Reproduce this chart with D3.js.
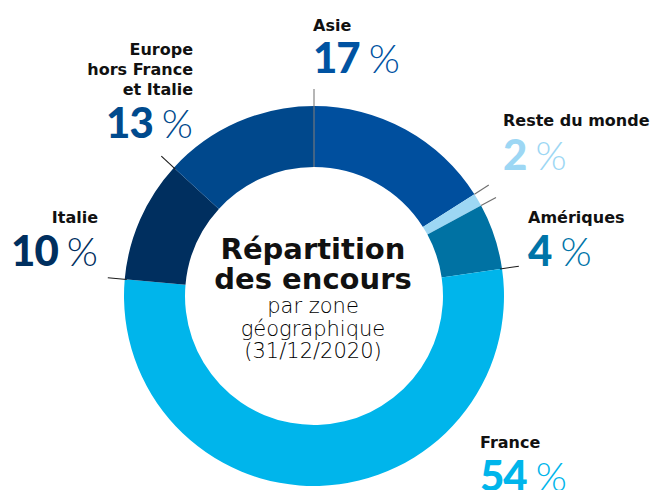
<!DOCTYPE html>
<html><head><meta charset="utf-8">
<script src="https://cdn.jsdelivr.net/npm/d3@7"></script>
<style>
html,body{margin:0;padding:0;background:#fff;}
svg{display:block;font-family:"DejaVu Sans",sans-serif;}
</style></head>
<body>
<svg id="chart" width="658" height="490"></svg>
<script>
// ---- data ----
const zones = ["Asie", "Reste du monde", "Amériques", "France", "Italie", "Europe hors France et Italie"];
const printedPct = ["17", "2", "4", "54", "10", "13"];           // percentages printed on the chart
const arcShare = [16.0, 1.1, 5.6, 53.7, 10.4, 13.2];            // slice sizes as drawn (read from the ring)
const nameLines = [["Asie"], ["Reste du monde"], ["Amériques"], ["France"], ["Italie"], ["Europe", "hors France", "et Italie"]];
const centerTitle = ["Répartition", "des encours"];
const centerSub = ["par zone", "géographique", "(31/12/2020)"];

// ---- style / layout ----
const sliceColors = ["#004f9e", "#9dd7f4", "#0072a3", "#00b5eb", "#002f5f", "#00488c"];
const pctColors   = ["#0053a2", "#9dd7f4", "#0074a8", "#00b5eb", "#002f5f", "#004a8d"];
const cx = 314, cy = 296, rIn = 129, rOut = 190, rLead = 207;
const labelPos = [
  {x: 313, y: 31, anchor: "start", pctY: 73},
  {x: 503, y: 126, anchor: "start", pctY: 170},
  {x: 528, y: 223, anchor: "start", pctY: 266},
  {x: 480, y: 448, anchor: "start", pctY: 491},
  {x: 98, y: 223, anchor: "end", pctY: 266},
  {x: 193, y: 55, anchor: "end", pctY: 138}
];

const svg = d3.select("#chart");
const g = svg.append("g").attr("transform", `translate(${cx},${cy})`);

const pie = d3.pie().sort(null).value(d => d).startAngle(0).endAngle(2 * Math.PI);
const arcs = pie(arcShare);
const arcGen = d3.arc().innerRadius(rIn).outerRadius(rOut);

g.selectAll("path.slice").data(arcs).join("path")
  .attr("class", "slice")
  .attr("d", arcGen)
  .attr("fill", (d, i) => sliceColors[i]);

// leader lines along slice boundaries
const pt = (a, r) => [Math.sin(a) * r, -Math.cos(a) * r];
const leaders = [
  {a: arcs[0].startAngle, r0: rIn, color: "#7a7a7a"},
  {a: arcs[1].startAngle, r0: rOut, color: "#6e6e6e"},
  {a: arcs[1].endAngle, r0: rOut, color: "#6e6e6e"},
  {a: arcs[2].endAngle, r0: rOut - 2, color: "#1a1a1a"},
  {a: arcs[4].startAngle, r0: rOut - 2, color: "#1a1a1a"},
  {a: arcs[5].startAngle, r0: rOut - 2, color: "#1a1a1a"}
];
g.selectAll("line.lead").data(leaders).join("line")
  .attr("class", "lead")
  .attr("x1", d => pt(d.a, d.r0)[0]).attr("y1", d => pt(d.a, d.r0)[1])
  .attr("x2", d => pt(d.a, rLead)[0]).attr("y2", d => pt(d.a, rLead)[1])
  .attr("stroke", d => d.color).attr("stroke-width", 1.1);

// labels
zones.forEach((z, i) => {
  const p = labelPos[i];
  const t = svg.append("text")
    .attr("text-anchor", p.anchor)
    .attr("font-size", 16).attr("font-weight", 700).attr("fill", "#111");
  nameLines[i].forEach((ln, k) => {
    t.append("tspan").attr("x", p.x).attr("y", p.y + k * 20).text(ln);
  });
  const pt2 = svg.append("text")
    .attr("text-anchor", p.anchor)
    .attr("font-family", "Lato, sans-serif")
    .attr("x", p.x).attr("y", p.pctY)
    .attr("fill", pctColors[i]);
  pt2.append("tspan").attr("font-size", 42).attr("font-weight", 900).attr("letter-spacing", -1).text(printedPct[i]);
  pt2.append("tspan").attr("dx", 9).attr("font-size", 40).attr("font-weight", 300).text("%");
});

// center text
const ct = svg.append("text").attr("text-anchor", "middle").attr("fill", "#111");
centerTitle.forEach((ln, k) => {
  ct.append("tspan").attr("x", 313).attr("y", 259 + k * 29.5)
    .attr("font-size", 29).attr("font-weight", 700).text(ln);
});
const cs = svg.append("text").attr("text-anchor", "middle").attr("fill", "#000");
centerSub.forEach((ln, k) => {
  cs.append("tspan").attr("x", 313).attr("y", 313 + k * 22.5)
    .attr("font-size", 21).attr("font-weight", 200).text(ln);
});
</script>
</body></html>
